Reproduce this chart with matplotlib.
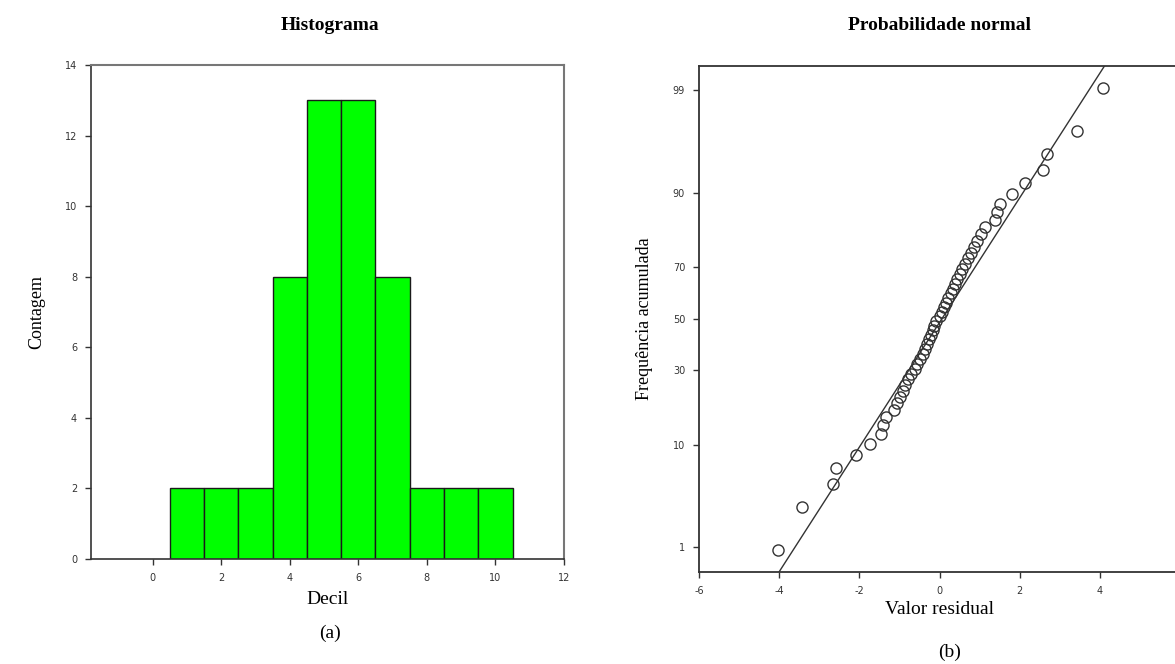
from statistics import NormalDist
import numpy as np
import matplotlib.pyplot as plt

# histograma (a)
decis = [1, 2, 3, 4, 5, 6, 7, 8, 9, 10]
contagens = [2, 2, 2, 8, 13, 13, 8, 2, 2, 2]

# residuos (b), em ordem crescente
residuos = [-4.04, -3.44, -2.65, -2.58, -2.09, -1.74, -1.45, -1.40, -1.33,
            -1.14, -1.05, -0.98, -0.92, -0.85, -0.78, -0.70, -0.62, -0.55,
            -0.48, -0.42, -0.37, -0.32, -0.27, -0.22, -0.17, -0.13, -0.08,
            0.00, 0.06, 0.12, 0.17, 0.22, 0.28, 0.33, 0.39, 0.44,
            0.50, 0.56, 0.63, 0.70, 0.78, 0.86, 0.94, 1.04, 1.14,
            1.38, 1.44, 1.52, 1.80, 2.14, 2.59, 2.69, 3.44, 4.09]
media_ajuste = 0.06
desvio_ajuste = 1.575
prob_ticks = [1, 10, 30, 50, 70, 90, 99]
residuo_ticks = [-6, -4, -2, 0, 2, 4, 6]

plt.rcParams['axes.unicode_minus'] = False
serif = ['Liberation Serif', 'DejaVu Serif']
nd = NormalDist()

fig = plt.figure(figsize=(11.75, 6.64), dpi=100)

# ---- (a) Histograma
ax1 = fig.add_axes([91 / 1175, 105 / 664, 473 / 1175, 494 / 664])
ax1.bar(decis, contagens, width=1.0, color='#00ff00', edgecolor='#1a1a1a', linewidth=1.0)
ax1.set_xlim(-1.8, 12)
ax1.set_ylim(0, 14)
ax1.set_xticks(range(0, 13, 2))
ax1.set_yticks(range(0, 15, 2))
for s in ['top', 'right']:
    ax1.spines[s].set_color('#777777')
    ax1.spines[s].set_linewidth(1.5)
for s in ['left', 'bottom']:
    ax1.spines[s].set_color('#333333')
    ax1.spines[s].set_linewidth(1.2)
ax1.tick_params(labelsize=7, length=4, width=1, colors='#333333', pad=6)
ax1.set_xlabel('Decil', fontsize=14, family=serif, labelpad=6)
ax1.set_ylabel('Contagem', fontsize=13, family=serif, labelpad=14)
fig.text(330 / 1175, 1 - 25 / 664, 'Histograma', ha='center', va='center',
         fontsize=14, fontweight='bold', family=serif)
fig.text(330 / 1175, 1 - 633 / 664, '(a)', ha='center', va='center',
         fontsize=14, family=serif)

# ---- (b) Probabilidade normal
ax2 = fig.add_axes([699 / 1175, 92 / 664, 481 / 1175, 506 / 664])
n = len(residuos)
z = [nd.inv_cdf((i - 0.5) / n) for i in range(1, n + 1)]
ax2.plot(residuos, z, 'o', markersize=8, markerfacecolor='none',
         markeredgecolor='#333333', markeredgewidth=1.0)
zl = np.array([-2.58, 2.58])
ax2.plot(media_ajuste + desvio_ajuste * zl, zl, color='#333333', linewidth=1.0)
ax2.set_xlim(-6, 6)
ax2.set_ylim(-2.58, 2.575)
ax2.set_xticks(residuo_ticks)
# o rotulo "6" fica fora da imagem no original
ax2.set_xticklabels([str(t) if t < 6 else '' for t in residuo_ticks])
ax2.set_yticks([nd.inv_cdf(p / 100) for p in prob_ticks])
ax2.set_yticklabels([str(p) for p in prob_ticks])
for s in ax2.spines.values():
    s.set_color('#333333')
    s.set_linewidth(1.3)
ax2.tick_params(labelsize=7, length=4, width=1, colors='#333333', pad=6)
ax2.set_xlabel('Valor residual', fontsize=14, family=serif, labelpad=4)
ax2.set_ylabel('Frequência acumulada', fontsize=13, family=serif, labelpad=14)
fig.text(940 / 1175, 1 - 25 / 664, 'Probabilidade normal', ha='center', va='center',
         fontsize=14, fontweight='bold', family=serif)
fig.text(950 / 1175, 1 - 652 / 664, '(b)', ha='center', va='center',
         fontsize=14, family=serif)

fig.savefig('out.png', dpi=100)
plt.close(fig)
